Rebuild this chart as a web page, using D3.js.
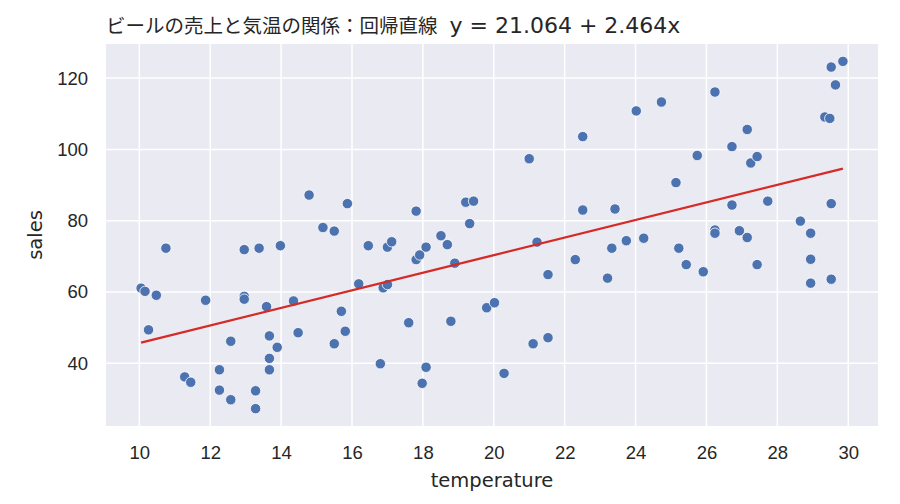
<!DOCTYPE html>
<html>
<head>
<meta charset="utf-8">
<script src="https://cdn.jsdelivr.net/npm/d3@7"></script>
<style>
  body { margin: 0; background: #fff; }
  svg { display: block; font-family: "DejaVu Sans", "Noto Sans CJK JP", sans-serif; }
</style>
</head>
<body>
<svg id="chart"></svg>
<script>
// data
const temperature = [
  10.05, 10.16, 10.48, 10.26, 10.75, 11.28, 11.45, 11.87, 12.26, 12.26,
  12.58, 12.58, 12.96, 12.96, 12.96, 13.28, 13.28, 13.38, 13.59, 13.67,
  13.67, 13.67, 13.89, 13.98, 14.35, 14.48, 14.79, 15.18, 15.50, 15.50,
  15.70, 15.81, 15.87, 16.19, 16.46, 16.80, 16.88, 17.00, 17.00, 17.12,
  17.60, 17.81, 17.81, 17.91, 17.98, 18.09, 18.09, 18.51, 18.69, 18.79,
  18.90, 19.21, 19.43, 19.32, 19.80, 20.02, 20.29, 21.00, 21.11, 21.22,
  21.53, 21.53, 22.30, 22.51, 22.51, 23.21, 23.33, 23.42, 23.74, 24.02,
  24.23, 24.73, 25.14, 25.22, 25.43, 25.74, 25.91, 26.24, 26.24, 26.24,
  26.72, 26.72, 26.93, 27.15, 27.15, 27.25, 27.43, 27.43, 27.73, 28.65,
  28.94, 28.94, 28.94, 29.34, 29.48, 29.52, 29.52, 29.52, 29.64, 29.85
];
const sales = [
  61.1, 60.2, 59.1, 49.4, 72.3, 36.2, 34.7, 57.7, 38.2, 32.5,
  46.2, 29.8, 71.9, 58.8, 58.0, 32.3, 27.3, 72.3, 55.9, 47.7,
  41.4, 38.2, 44.5, 73.0, 57.5, 48.6, 87.2, 78.1, 77.1, 45.5,
  54.6, 49.0, 84.8, 62.3, 73.0, 39.9, 61.2, 62.1, 72.6, 74.1,
  51.4, 82.7, 69.1, 70.4, 34.4, 72.6, 38.9, 75.8, 73.3, 51.8,
  68.1, 85.2, 85.5, 79.2, 55.6, 57.0, 37.2, 97.4, 45.5, 74.0,
  64.9, 47.2, 69.1, 103.6, 83.0, 63.9, 72.3, 83.3, 74.4, 110.8,
  75.1, 113.3, 90.7, 72.3, 67.7, 98.3, 65.7, 116.1, 77.4, 76.5,
  100.8, 84.4, 77.2, 105.6, 75.3, 96.2, 98.0, 67.7, 85.5, 79.9,
  76.5, 69.2, 62.5, 109.1, 108.7, 123.1, 84.8, 63.6, 118.1, 124.7
];
const intercept = 21.064, slope = 2.464;
const xTicks = [10, 12, 14, 16, 18, 20, 22, 24, 26, 28, 30];
const yTicks = [40, 60, 80, 100, 120];
const titleJa = "ビールの売上と気温の関係：回帰直線";
const titleEq = `y = ${intercept} + ${slope}x`;

const width = 900, height = 504;
const marginTop = 44, marginRight = 22, marginBottom = 78, marginLeft = 106;

const svg = d3.select("#chart")
  .attr("width", width)
  .attr("height", height);

// seaborn-like 5% padding around the data
const xExt = d3.extent(temperature), yExt = d3.extent(sales);
const xPad = (xExt[1] - xExt[0]) * 0.05, yPad = (yExt[1] - yExt[0]) * 0.05;
const x = d3.scaleLinear([xExt[0] - xPad, xExt[1] + xPad], [marginLeft, width - marginRight]);
const y = d3.scaleLinear([yExt[0] - yPad, yExt[1] + yPad], [height - marginBottom, marginTop]);

// background panel
svg.append("rect")
  .attr("x", marginLeft)
  .attr("y", marginTop)
  .attr("width", width - marginLeft - marginRight)
  .attr("height", height - marginTop - marginBottom)
  .attr("fill", "#eaeaf2");

// grid lines
svg.append("g")
  .selectAll("line")
  .data(xTicks)
  .join("line")
    .attr("x1", d => x(d)).attr("x2", d => x(d))
    .attr("y1", marginTop).attr("y2", height - marginBottom)
    .attr("stroke", "#fff").attr("stroke-width", 1.5);

svg.append("g")
  .selectAll("line")
  .data(yTicks)
  .join("line")
    .attr("x1", marginLeft).attr("x2", width - marginRight)
    .attr("y1", d => y(d)).attr("y2", d => y(d))
    .attr("stroke", "#fff").attr("stroke-width", 1.5);

// axes (labels only, darkgrid has no spines)
svg.append("g")
  .attr("transform", `translate(0,${height - marginBottom})`)
  .call(d3.axisBottom(x).tickValues(xTicks).tickSize(0).tickPadding(20))
  .call(g => g.select(".domain").remove())
  .call(g => g.selectAll("text")
    .attr("font-size", 18.5).attr("fill", "#262626")
    .attr("font-family", "inherit"));

svg.append("g")
  .attr("transform", `translate(${marginLeft},0)`)
  .call(d3.axisLeft(y).tickValues(yTicks).tickSize(0).tickPadding(18))
  .call(g => g.select(".domain").remove())
  .call(g => g.selectAll("text")
    .attr("font-size", 18.5).attr("fill", "#262626")
    .attr("font-family", "inherit"));

// axis titles
svg.append("text")
  .attr("x", (marginLeft + width - marginRight) / 2)
  .attr("y", 487)
  .attr("text-anchor", "middle")
  .attr("font-size", 19.5)
  .attr("fill", "#262626")
  .text("temperature");

svg.append("text")
  .attr("transform", `translate(42,${(marginTop + height - marginBottom) / 2}) rotate(-90)`)
  .attr("text-anchor", "middle")
  .attr("font-size", 19.5)
  .attr("fill", "#262626")
  .text("sales");

// title
const title = svg.append("text")
  .attr("x", marginLeft)
  .attr("y", 33)
  .attr("fill", "#262626");
title.append("tspan")
  .attr("font-family", "Noto Sans CJK JP")
  .attr("font-size", 19.5)
  .text(titleJa);
title.append("tspan")
  .attr("dx", 12)
  .attr("font-size", 22)
  .text(titleEq);

// points
svg.append("g")
  .selectAll("circle")
  .data(d3.range(temperature.length))
  .join("circle")
    .attr("cx", i => x(temperature[i]))
    .attr("cy", i => y(sales[i]))
    .attr("r", 5.2)
    .attr("fill", "#4c72b0")
    .attr("stroke", "#fff")
    .attr("stroke-width", 0.8);

// regression line across the data range
const fit = xExt.map(t => ({ t, s: intercept + slope * t }));
svg.append("path")
  .datum(fit)
  .attr("fill", "none")
  .attr("stroke", "#d62a26")
  .attr("stroke-width", 2.3)
  .attr("d", d3.line().x(d => x(d.t)).y(d => y(d.s)));
</script>
</body>
</html>
